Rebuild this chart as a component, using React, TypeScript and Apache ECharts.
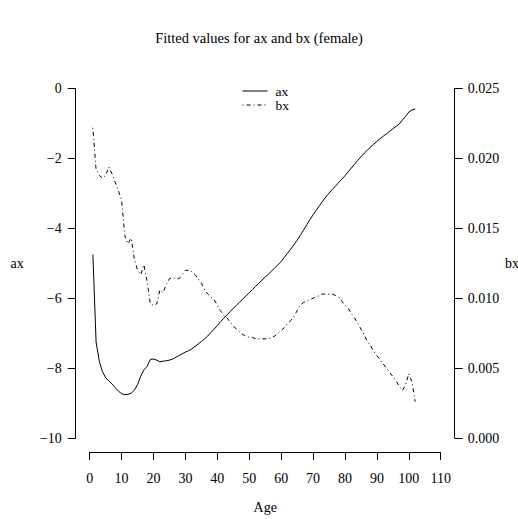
import React, { useEffect, useRef } from "react";
import * as echarts from "echarts";

const titleText = "Fitted values for ax and bx (female)";
const xName = "Age";
const axName = "ax";
const bxName = "bx";

const ages = [
  1, 2, 3, 4, 5, 6, 7, 8, 9, 10,
  11, 12, 13, 14, 15, 16, 17, 18, 19, 20,
  21, 22, 23, 24, 25, 26, 27, 28, 29, 30,
  31, 32, 33, 34, 35, 36, 37, 38, 39, 40,
  41, 42, 43, 44, 45, 46, 47, 48, 49, 50,
  51, 52, 53, 54, 55, 56, 57, 58, 59, 60,
  61, 62, 63, 64, 65, 66, 67, 68, 69, 70,
  71, 72, 73, 74, 75, 76, 77, 78, 79, 80,
  81, 82, 83, 84, 85, 86, 87, 88, 89, 90,
  91, 92, 93, 94, 95, 96, 97, 98, 99, 100,
  101, 102,
];

const axValues = [
  -4.75, -7.25, -7.8, -8.1, -8.27, -8.37, -8.45, -8.56, -8.66, -8.73,
  -8.76, -8.75, -8.72, -8.63, -8.47, -8.23, -8.05, -7.95, -7.75, -7.74,
  -7.77, -7.82, -7.8, -7.79, -7.77, -7.74, -7.69, -7.64, -7.59, -7.54,
  -7.5, -7.45, -7.38, -7.31, -7.24, -7.16, -7.08, -6.98, -6.88, -6.78,
  -6.67, -6.57, -6.48, -6.38, -6.29, -6.2, -6.11, -6.02, -5.93, -5.84,
  -5.75, -5.66, -5.57, -5.48, -5.39, -5.31, -5.22, -5.13, -5.04, -4.95,
  -4.83, -4.71, -4.59, -4.47, -4.34, -4.2, -4.05, -3.9, -3.75, -3.61,
  -3.48, -3.35, -3.22, -3.1, -2.99, -2.89, -2.79, -2.69, -2.59, -2.49,
  -2.38, -2.27, -2.16, -2.05, -1.95, -1.85, -1.76, -1.67, -1.59, -1.51,
  -1.43, -1.36, -1.29, -1.22, -1.15, -1.08, -1.01, -0.9, -0.79, -0.67,
  -0.61, -0.58,
];

const bxValues = [
  0.0222, 0.0192, 0.0188, 0.0186, 0.0188, 0.0194, 0.0189, 0.0183, 0.0177, 0.017,
  0.0145, 0.0139, 0.0143, 0.0128, 0.012, 0.0117, 0.0124, 0.0112, 0.0096, 0.0095,
  0.0096, 0.0106, 0.0104, 0.011, 0.0114, 0.0115, 0.0114, 0.0114, 0.0117, 0.012,
  0.012, 0.0119, 0.0117, 0.0114, 0.0111, 0.0106, 0.0103, 0.0101, 0.0099, 0.0095,
  0.0091, 0.0088, 0.0086, 0.0083, 0.008, 0.0078, 0.0076, 0.0074, 0.0073, 0.0072,
  0.0072, 0.0071, 0.0071, 0.0071, 0.0071, 0.0071, 0.0072, 0.0073, 0.0075, 0.0077,
  0.0079, 0.0082, 0.0084, 0.0087, 0.0091, 0.0095, 0.0097, 0.0098, 0.0099, 0.01,
  0.0101, 0.0102, 0.0103, 0.0103, 0.0103, 0.0103, 0.0102, 0.0101, 0.0098, 0.0095,
  0.0093, 0.0089, 0.0086, 0.0082, 0.0078, 0.0074, 0.0069, 0.0066, 0.0062, 0.0059,
  0.0056, 0.0053, 0.005, 0.0047, 0.0044, 0.0041, 0.0037, 0.0034, 0.0038, 0.0046,
  0.004, 0.0026,
];

const FONT = "'Liberation Serif', 'DejaVu Serif', serif";

export default function App() {
  const ref = useRef<HTMLDivElement>(null);
  useEffect(() => {
    if (!ref.current) return;
    const chart = echarts.init(ref.current, undefined, { renderer: "svg" });
    const axData = ages.map((a, i) => [a, axValues[i]]);
    const bxData = ages.map((a, i) => [a, bxValues[i]]);
    const axisCommon = {
      axisLine: { show: true, onZero: false, lineStyle: { color: "#000", width: 1 } },
      axisTick: { show: true, length: 8, lineStyle: { color: "#000", width: 1 } },
      splitLine: { show: false },
      axisLabel: { color: "#000", fontFamily: FONT, fontSize: 14 },
      nameTextStyle: { color: "#000", fontFamily: FONT, fontSize: 14 },
    };
    chart.setOption({
      animation: false,
      backgroundColor: "#fff",
      title: {
        text: titleText,
        left: "center",
        top: 30,
        padding: [0, 0, 0, 12],
        textStyle: { color: "#000", fontFamily: FONT, fontSize: 14.5, fontWeight: "normal" },
      },
      legend: {
        orient: "vertical",
        left: 242,
        top: 84,
        itemWidth: 25,
        itemHeight: 10,
        itemGap: 0,
        padding: 0,
        itemStyle: { opacity: 0 },
        lineStyle: { width: 1 },
        textStyle: { color: "#000", fontFamily: FONT, fontSize: 13.5, padding: [0, 0, 0, 3] },
        data: [axName, bxName],
      },
      grid: {
        left: 89.7,
        right: 77.3,
        top: 88.7,
        bottom: 81,
        containLabel: false,
        outerBoundsMode: "none",
      },
      xAxis: {
        ...axisCommon,
        type: "value",
        min: 0,
        max: 110,
        interval: 10,
        offset: 14,
        name: xName,
        nameLocation: "middle",
        nameGap: 48,
        axisLabel: { ...axisCommon.axisLabel, margin: 19 },
      },
      yAxis: [
        {
          ...axisCommon,
          type: "value",
          position: "left",
          min: -10,
          max: 0,
          interval: 2,
          offset: 14,
          name: axName,
          nameLocation: "middle",
          nameRotate: 0,
          nameGap: 52,
          axisLabel: {
            ...axisCommon.axisLabel,
            margin: 14,
            formatter: (v: number) => String(v).replace("-", "\u2212"),
          },
        },
        {
          ...axisCommon,
          type: "value",
          position: "right",
          min: 0,
          max: 0.025,
          interval: 0.005,
          offset: 14,
          name: bxName,
          nameLocation: "middle",
          nameRotate: 0,
          nameGap: 50,
          axisLabel: {
            ...axisCommon.axisLabel,
            margin: 13,
            formatter: (v: number) => v.toFixed(3),
          },
        },
      ],
      series: [
        {
          name: axName,
          type: "line",
          yAxisIndex: 0,
          data: axData,
          symbol: "none",
          showSymbol: false,
          lineStyle: { color: "#000", width: 1, type: "solid" },
          itemStyle: { color: "#000" },
        },
        {
          name: bxName,
          type: "line",
          yAxisIndex: 1,
          data: bxData,
          symbol: "none",
          showSymbol: false,
          lineStyle: { color: "#000", width: 1, type: [1, 3, 4, 3] },
          itemStyle: { color: "#000" },
        },
      ],
    });
    return () => chart.dispose();
  }, []);
  return <div ref={ref} style={{ width: 518, height: 519, position: "absolute", left: 0, top: 0 }} />;
}
